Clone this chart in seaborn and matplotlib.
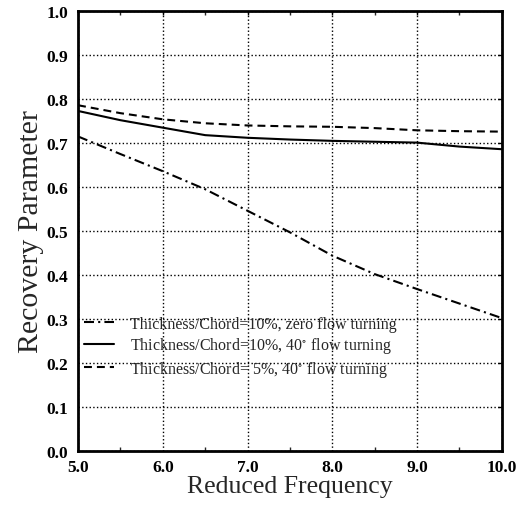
import numpy as np
import pandas as pd
import matplotlib
matplotlib.use('Agg')
import matplotlib.pyplot as plt
import seaborn as sns

# Data
freq = [5.0, 5.5, 6.0, 6.5, 7.0, 7.5, 8.0, 8.5, 9.0, 9.5, 10.0]
zero_turning_10 = [0.715, 0.675, 0.636, 0.595, 0.546, 0.497, 0.444, 0.402, 0.368, 0.335, 0.302]
turning40_10 = [0.773, 0.752, 0.735, 0.718, 0.712, 0.708, 0.705, 0.703, 0.701, 0.692, 0.686]
turning40_5 = [0.786, 0.768, 0.754, 0.745, 0.740, 0.738, 0.737, 0.734, 0.729, 0.727, 0.726]

labels = [
    'Thickness/Chord=10%, zero flow turning',
    r'Thickness/Chord=10%, 40$^{\circ}$ flow turning',
    r'Thickness/Chord= 5%, 40$^{\circ}$ flow turning',
]
styles = [(0, (4.8, 2, 1, 2)), '-', (0, (3.8, 2.4))]

sns.set_theme(style='white')
plt.rcParams['font.family'] = ['Liberation Serif', 'DejaVu Serif']
plt.rcParams['mathtext.fontset'] = 'stix'

fig = plt.figure(figsize=(5.31, 5.06), dpi=100)
ax = fig.add_axes([0.147, 0.107, 0.798, 0.869])

handles = []
for y, lab, ls in zip([zero_turning_10, turning40_10, turning40_5], labels, styles):
    df = pd.DataFrame({'freq': freq, 'val': y})
    sns.lineplot(data=df, x='freq', y='val', ax=ax, color='black',
                 linewidth=1.5, linestyle=ls, legend=False)
    handles.append(ax.lines[-1])

ax.set_xlim(5.0, 10.0)
ax.set_ylim(0.0, 1.0)
ax.set_xticks(np.arange(5.0, 10.01, 1.0))
ax.set_xticklabels(['5.0', '6.0', '7.0', '8.0', '9.0', '10.0'])
ax.set_yticks(np.arange(0.0, 1.01, 0.1))
ax.set_yticklabels(['%.1f' % v for v in np.arange(0.0, 1.01, 0.1)])
ax.set_xticks(np.arange(5.5, 10.0, 1.0), minor=True)
ax.tick_params(axis='both', which='major', labelsize=12.5, direction='in', length=3, width=1,
               colors='black')
ax.tick_params(axis='x', which='major', pad=6)
ax.tick_params(axis='y', which='major', pad=7)
ax.tick_params(axis='both', which='minor', direction='in', length=3, width=1, bottom=True, top=True)
ax.tick_params(top=True, right=True)
for t in ax.get_xticklabels() + ax.get_yticklabels():
    t.set_fontweight('bold')

ax.grid(True, which='major', color='black', linestyle=':', linewidth=1.0)
for s in ax.spines.values():
    s.set_linewidth(2)
    s.set_color('black')

ax.set_xlabel('Reduced Frequency', fontsize=18.5, labelpad=0)
ax.set_ylabel('Recovery Parameter', fontsize=21.5, labelpad=2)

leg = ax.legend(handles, labels, loc='upper left', bbox_to_anchor=(0.014, 0.307), frameon=False,
                fontsize=11.5, handlelength=1.9, handletextpad=0.95, labelspacing=0.22,
                borderaxespad=0.0, borderpad=0.0)

fig.savefig('out.png', dpi=100)
